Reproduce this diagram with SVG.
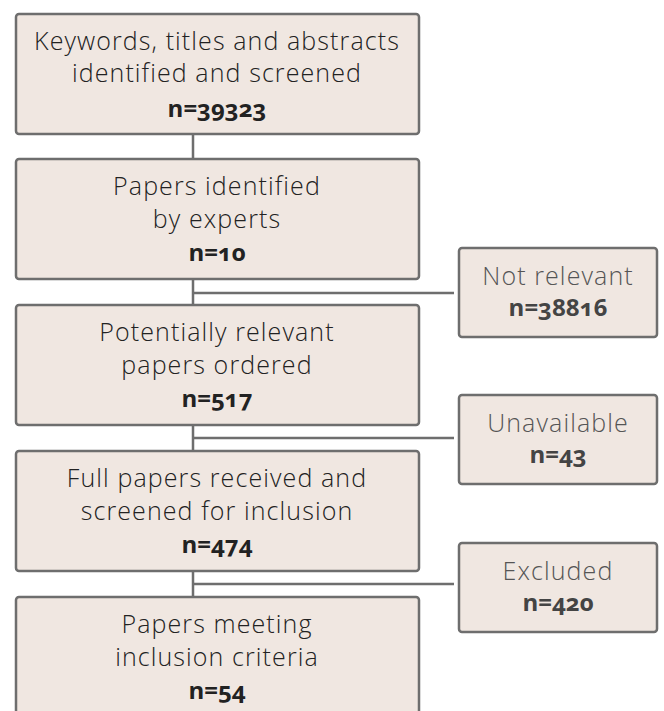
<svg xmlns="http://www.w3.org/2000/svg" width="664" height="711" viewBox="0 0 664 711">
<style>
.box{fill:#f0e7e1;stroke:#6e6e6e;stroke-width:2.5}
.conn{stroke:#6e6e6e;stroke-width:2.5;fill:none}
.t{font-family:"Open Sans","Noto Sans",sans-serif;font-weight:300;font-size:25px;fill:#222;text-anchor:middle;letter-spacing:1.1px}
.s{fill:#555}
.n{font-family:"Open Sans","Noto Sans",sans-serif;font-weight:700;font-size:24px;fill:#222;text-anchor:middle;font-variant-numeric:oldstyle-nums;font-feature-settings:"onum" 1}
.ns{fill:#444}
</style>
<rect width="664" height="711" fill="#ffffff"/>
<g id="connectors">
<path class="conn" d="M193 134V159M193 279V305M193 425V451M193 571V597"/>
<path class="conn" d="M193 293H454M193 438H454M193 584H454"/>
</g>
<g id="n1">
<rect class="box" x="16" y="14" width="403" height="120" rx="3"/>
<text class="t" x="217" y="50">Keywords, titles and abstracts</text>
<text class="t" x="217" y="82">identified and screened</text>
<text class="n" x="217" y="117">n=39323</text>
</g>
<g id="n2">
<rect class="box" x="16" y="159" width="403" height="120" rx="3"/>
<text class="t" x="217" y="195">Papers identified</text>
<text class="t" x="217" y="228">by experts</text>
<text class="n" x="217" y="261">n=10</text>
</g>
<g id="n3">
<rect class="box" x="16" y="305" width="403" height="120" rx="3"/>
<text class="t" x="217" y="341">Potentially relevant</text>
<text class="t" x="217" y="374">papers ordered</text>
<text class="n" x="217" y="407">n=517</text>
</g>
<g id="n4">
<rect class="box" x="16" y="451" width="403" height="120" rx="3"/>
<text class="t" x="217" y="487">Full papers received and</text>
<text class="t" x="217" y="520">screened for inclusion</text>
<text class="n" x="217" y="553">n=474</text>
</g>
<g id="n5">
<rect class="box" x="16" y="597" width="403" height="120" rx="3"/>
<text class="t" x="217" y="633">Papers meeting</text>
<text class="t" x="217" y="666">inclusion criteria</text>
<text class="n" x="217" y="699">n=54</text>
</g>
<g id="s1">
<rect class="box" x="459" y="248" width="198" height="89" rx="3"/>
<text class="t s" x="558" y="285">Not relevant</text>
<text class="n ns" x="558" y="316">n=38816</text>
</g>
<g id="s2">
<rect class="box" x="459" y="395" width="198" height="89" rx="3"/>
<text class="t s" x="558" y="432">Unavailable</text>
<text class="n ns" x="558" y="463">n=43</text>
</g>
<g id="s3">
<rect class="box" x="459" y="543" width="198" height="89" rx="3"/>
<text class="t s" x="558" y="580">Excluded</text>
<text class="n ns" x="558" y="611">n=420</text>
</g>
</svg>
